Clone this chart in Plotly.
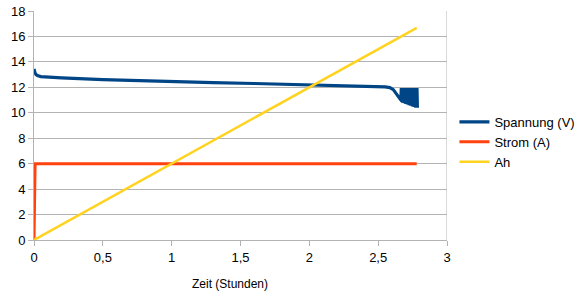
import plotly.graph_objects as go

# Spannung (V)
t_v = [0.0, 0.003, 0.008, 0.015, 0.025, 0.05, 0.09, 0.2, 0.5, 0.8, 1.0, 1.3, 1.6, 2.0, 2.3, 2.45, 2.55, 2.585, 2.61, 2.635, 2.655, 2.665,
       2.668, 2.671, 2.674, 2.677, 2.680, 2.683, 2.686, 2.689, 2.692, 2.695, 2.698, 2.701, 2.704, 2.707,
       2.710, 2.713, 2.716, 2.719, 2.722, 2.725, 2.728, 2.731, 2.734, 2.737, 2.740, 2.743, 2.746, 2.749, 2.752,
       2.755, 2.758, 2.761, 2.764, 2.767, 2.770, 2.773, 2.776, 2.779, 2.782, 2.785]
v_v = [13.45, 13.3, 13.12, 13.0, 12.92, 12.84, 12.8, 12.74, 12.6, 12.5, 12.44, 12.37, 12.3, 12.2, 12.12, 12.07, 12.03, 11.98, 11.82, 11.45, 11.1, 11.0,
       11.95, 10.85, 11.95, 10.8, 11.95, 10.8, 11.95, 10.75, 11.95, 10.75, 11.95, 10.7, 11.95, 10.7, 11.95,
       10.65, 11.95, 10.65, 11.95, 10.6, 11.95, 10.6, 11.95, 10.55, 11.95, 10.55, 11.95, 10.5, 11.95, 10.5,
       11.95, 10.45, 11.95, 10.45, 11.95, 10.4, 11.95, 10.4, 11.95, 10.4, 11.9]

# Strom (A)
t_a = [0.0, 0.008, 2.78]
v_a = [0.0, 6.0, 6.0]

# Ah
t_ah = [0.0, 2.78]
v_ah = [0.0, 16.68]

x_ticks = [0, 0.5, 1, 1.5, 2, 2.5, 3]
y_ticks = [0, 2, 4, 6, 8, 10, 12, 14, 16, 18]
x_title = "Zeit (Stunden)"

fig = go.Figure()
fig.add_trace(go.Scatter(x=t_v, y=v_v, mode="lines", name="Spannung (V)",
                         line=dict(color="#004586", width=3.2)))
fig.add_trace(go.Scatter(x=t_a, y=v_a, mode="lines", name="Strom (A)",
                         line=dict(color="#ff420e", width=3)))
fig.add_trace(go.Scatter(x=t_ah, y=v_ah, mode="lines", name="Ah",
                         line=dict(color="#ffd320", width=2.5)))

font = "Liberation Sans, Arial, sans-serif"
fig.update_layout(
    width=576, height=296,
    margin=dict(l=34, r=129, t=11, b=56, autoexpand=False),
    paper_bgcolor="white", plot_bgcolor="white",
    separators=",.",
    font=dict(family=font, size=13, color="#000000"),
    showlegend=True,
    legend=dict(x=1.018, y=0.428, xanchor="left", yanchor="middle",
                font=dict(size=13), tracegroupgap=0, itemwidth=30,
                bgcolor="rgba(0,0,0,0)"),
    xaxis=dict(range=[0, 3], tickvals=x_ticks, showgrid=False, zeroline=False,
               showline=True, linecolor="#b3b3b3", linewidth=1,
               ticks="outside", ticklen=5, tickcolor="#b3b3b3"),
    yaxis=dict(range=[0, 18], tickvals=y_ticks, showgrid=True, gridcolor="#b3b3b3",
               zeroline=False, showline=True, linecolor="#b3b3b3", linewidth=1,
               ticks="outside", ticklen=5, tickcolor="#b3b3b3"),
)
fig.add_annotation(text=x_title, xref="paper", yref="paper",
                   x=0.475, y=-0.193, xanchor="center", yanchor="middle",
                   showarrow=False, font=dict(size=12))
fig.add_shape(type="line", xref="x", yref="paper", x0=3, x1=3, y0=0, y1=1,
              line=dict(color="#b3b3b3", width=1), layer="below")

fig.write_html("out.html")
